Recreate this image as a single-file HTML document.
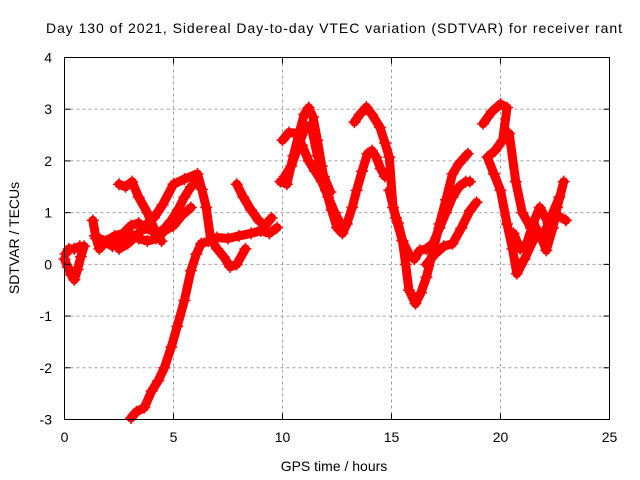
<!DOCTYPE html>
<html><head><meta charset="utf-8"><style>
body{margin:0;background:#fff}
svg{display:block;font-family:"Liberation Sans",sans-serif}
</style></head><body>
<svg id="chart" width="640" height="480" viewBox="0 0 640 480">
<rect width="640" height="480" fill="#fff"/>
<text x="334" y="33" font-size="14" text-anchor="middle" textLength="576">Day 130 of 2021, Sidereal Day-to-day VTEC variation (SDTVAR) for receiver rant</text>
<g id="grid"></g>
<g id="marks"></g>
<g id="axes"></g>
<text x="334" y="471" font-size="14" text-anchor="middle">GPS time / hours</text>
<text transform="translate(19,238) rotate(-90)" font-size="14" text-anchor="middle">SDTVAR / TECUs</text>
</svg>
<script>
const xTicks=[0,5,10,15,20,25];
const yTicks=[-3,-2,-1,0,1,2,3,4];
const trackA_t=[0,0.15,0.3,0.45,0.6,0.75,0.9,0.7,0.45,0.2,0.05];
const trackA_v=[0.1,-0.05,-0.2,-0.3,-0.1,0.15,0.35,0.35,0.3,0.3,0.2];
const trackB_t=[1.3,1.45,1.6,1.9,2.3,2.7,3.05,3.4,3.7,4.0,4.3,4.6,4.9,5.2,5.5,5.8,6.1];
const trackB_v=[0.85,0.5,0.3,0.45,0.55,0.6,0.75,0.8,0.7,0.65,0.6,0.7,0.85,1.05,1.3,1.5,1.6];
const trackC_t=[2.5,2.8,3.1,3.4,3.8,4.1,4.45];
const trackC_v=[1.55,1.5,1.6,1.3,1.0,0.7,0.45];
const trackD_t=[2.5,2.9,3.3,3.7,4.1,4.5,5.0,5.5,6.1,6.3,6.5,6.7,7.0,7.3,7.6,7.9,8.3];
const trackD_v=[0.3,0.4,0.55,0.75,0.9,1.15,1.55,1.65,1.75,1.45,1.1,0.5,0.3,0.15,-0.05,0.0,0.3];
const trackE_t=[3.05,3.3,3.66,4.0,4.3,4.58,4.9,5.17,5.5,5.8,6.05,6.27,6.6,7.0,7.5,8.0,8.56,9.0,9.4,9.75];
const trackE_v=[-2.97,-2.85,-2.77,-2.45,-2.25,-2.0,-1.6,-1.2,-0.7,-0.12,0.2,0.4,0.45,0.52,0.5,0.55,0.6,0.65,0.6,0.71];
const trackF_t=[7.9,8.2,8.56,8.9,9.2,9.5];
const trackF_v=[1.55,1.3,1.05,0.85,0.75,0.9];
const trackG_t=[9.9,10.2,10.5,10.8,11.0,11.2,11.4,11.6,11.8,12.0,12.25,12.5,12.75,12.95,13.2,13.4,13.65,13.9,14.1,14.3,14.5,14.7];
const trackG_v=[1.6,1.55,2.1,2.6,2.9,3.03,2.85,2.4,1.9,1.43,1.05,0.71,0.6,0.78,1.1,1.43,1.8,2.14,2.2,2.07,1.85,1.7];
const trackH_t=[10.0,10.3,10.65,10.9,11.2,11.5,11.8,12.1,12.4,12.7];
const trackH_v=[2.4,2.55,2.53,2.3,2.0,1.8,1.6,1.3,1.0,0.75];
const trackI_t=[13.3,13.55,13.85,14.1,14.47,14.7,14.9,15.07,15.3,15.5,15.65,15.8,16.1,16.35,16.6,16.9,17.2,17.5,17.8,18.1,18.5];
const trackI_v=[2.75,2.9,3.04,2.9,2.65,2.35,2.07,1.1,0.8,0.46,0.0,-0.5,-0.76,-0.55,-0.25,0.25,0.78,1.25,1.75,1.95,2.14];
const trackJ_t=[14.9,15.2,15.5,15.8,16.05,16.3,16.6,16.9,17.2,17.5,17.8,18.1,18.4,18.6];
const trackJ_v=[1.43,0.9,0.46,0.2,0.1,0.27,0.3,0.4,0.7,1.0,1.3,1.5,1.6,1.6];
const trackK_t=[16.6,17.0,17.4,17.8,18.2,18.6,18.9];
const trackK_v=[0.0,0.2,0.35,0.4,0.7,1.04,1.2];
const trackL_t=[19.2,19.6,20.0,20.3,20.1,19.75,19.4,19.7,20.0,20.3,20.55,20.75,21.1,21.5,21.8,22.1,22.4,22.6,22.9];
const trackL_v=[2.72,2.95,3.1,3.03,2.4,2.2,2.07,1.75,1.43,0.78,0.3,-0.18,0.1,0.46,0.6,0.27,0.7,1.1,1.6];
const trackM_t=[19.75,20.1,20.4,20.7,21.0,21.4,21.8,22.2,22.6,23.0];
const trackM_v=[2.2,2.4,2.53,1.6,1.0,0.7,1.1,0.8,0.95,0.85];
const trackN_t=[1.4,1.8,2.2,2.6,3.0,3.4,3.8,4.2,4.6,5.0,5.4,5.8];
const trackN_v=[0.55,0.45,0.35,0.5,0.6,0.5,0.45,0.5,0.65,0.75,0.95,1.1];
const trackO_t=[10.1,10.4,10.7,11.0,11.3,11.6,11.9,12.2];
const trackO_v=[1.7,1.9,2.25,2.6,2.7,2.1,1.7,1.4];
const trackP_t=[20.6,20.9,21.2,21.5,21.9,22.3,22.7];
const trackP_v=[0.6,0.3,0.4,0.8,0.5,0.9,1.3];
const tracks=[[trackA_t,trackA_v],[trackB_t,trackB_v],[trackC_t,trackC_v],[trackD_t,trackD_v],[trackE_t,trackE_v],[trackF_t,trackF_v],[trackG_t,trackG_v],[trackH_t,trackH_v],[trackI_t,trackI_v],[trackJ_t,trackJ_v],[trackK_t,trackK_v],[trackL_t,trackL_v],[trackM_t,trackM_v],[trackN_t,trackN_v],[trackO_t,trackO_v],[trackP_t,trackP_v]];

const X0=64.5,X1=609.5,Y0=419.5,Y1=57.5;
const xs=t=>X0+(t-0)/(25-0)*(X1-X0);
const ys=v=>Y0-(v-(-3))/(4-(-3))*(Y0-Y1);
const NS='http://www.w3.org/2000/svg';
function mk(tag,attrs,parent){const e=document.createElementNS(NS,tag);for(const k in attrs)e.setAttribute(k,attrs[k]);parent.appendChild(e);return e;}
const grid=document.getElementById('grid'),axes=document.getElementById('axes'),marks=document.getElementById('marks');
xTicks.forEach(t=>{
  const x=xs(t);
  if(t>0&&t<25){const g=mk('line',{x1:x,x2:x,y1:Y1,y2:Y0,stroke:'#a0a0a0','stroke-dasharray':'3,3'},grid);
  
  }
  const a=mk('line',{x1:x,x2:x,y1:Y0,y2:Y0-6,stroke:'#000'},axes);
  
  
  const b=mk('line',{x1:x,x2:x,y1:Y1,y2:Y1+6,stroke:'#000'},axes);
  
  
  const l=mk('text',{x:x,y:442,'font-size':14,'text-anchor':'middle'},axes);l.textContent=t;
  
  
});
yTicks.forEach(v=>{
  const y=ys(v);
  if(v>-3&&v<4){const g=mk('line',{x1:X0,x2:X1,y1:y,y2:y,stroke:'#a0a0a0','stroke-dasharray':'3,3'},grid);
  
  }
  const a=mk('line',{x1:X0,x2:X0+6,y1:y,y2:y,stroke:'#000'},axes);
  
  
  const b=mk('line',{x1:X1,x2:X1-6,y1:y,y2:y,stroke:'#000'},axes);
  
  
  const l=mk('text',{x:52,y:y+5,'font-size':14,'text-anchor':'end'},axes);l.textContent=v;
  
  
});
const fr=mk('rect',{x:X0,y:Y1,width:X1-X0,height:Y0-Y1,fill:'none',stroke:'#000'},axes);


tracks.forEach(([T,V])=>{
  const pts=T.map((t,i)=>xs(t)+','+ys(V[i])).join(' ');
  const p=mk('polyline',{points:pts,fill:'none',stroke:'#f00','stroke-width':9,'stroke-linejoin':'round','stroke-linecap':'round'},marks);
  
  
  T.forEach((t,i)=>{
    const x=xs(t),y=ys(V[i]);
    const m=mk('path',{d:`M${x-6},${y}H${x+6}M${x},${y-6}V${y+6}`,stroke:'#f00','stroke-width':1.5},marks);
    
    
  });
});
</script>
</body></html>
